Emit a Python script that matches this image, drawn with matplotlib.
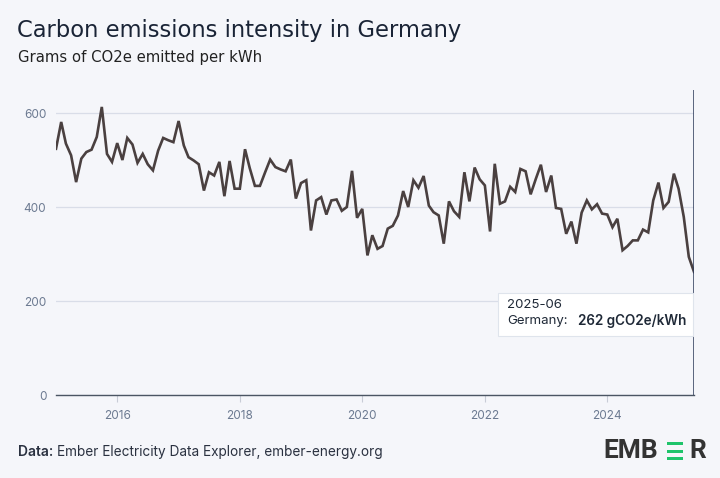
import matplotlib.pyplot as plt
import matplotlib.patches as patches
import pandas as pd

plt.rcParams["font.family"] = ["Inter", "DejaVu Sans"]

# Monthly carbon intensity, Germany (gCO2e/kWh), Jan 2015 - Jun 2025
y2015 = [524, 581, 535, 510, 453, 503, 517, 522, 549, 613, 513, 496]
y2016 = [536, 500, 547, 533, 494, 513, 491, 478, 520, 547, 542, 538]
y2017 = [583, 531, 506, 499, 491, 435, 474, 467, 496, 423, 498, 439]
y2018 = [439, 523, 483, 445, 445, 474, 501, 485, 480, 476, 501, 418]
y2019 = [451, 457, 350, 414, 421, 384, 414, 416, 392, 400, 477, 377]
y2020 = [396, 297, 340, 311, 317, 354, 360, 382, 434, 400, 457, 441]
y2021 = [466, 403, 389, 382, 322, 412, 391, 379, 474, 412, 484, 459]
y2022 = [446, 348, 492, 407, 412, 443, 432, 481, 476, 427, 460, 490]
y2023 = [432, 467, 398, 396, 343, 369, 322, 388, 414, 395, 406, 386]
y2024 = [384, 357, 375, 308, 317, 329, 329, 352, 346, 414, 452, 398]
y2025 = [411, 471, 439, 379, 294, 262]

values = (y2015 + y2016 + y2017 + y2018 + y2019 + y2020
          + y2021 + y2022 + y2023 + y2024 + y2025)
dates = pd.date_range("2015-01-01", periods=len(values), freq="MS")
year_ticks = [2016, 2018, 2020, 2022, 2024]
y_ticks = [0, 200, 400, 600]

bg = "#f5f6fa"
fig = plt.figure(figsize=(7.2, 4.78), dpi=100, facecolor=bg)
W, H = 720, 478
ax = fig.add_axes([56 / W, (H - 395) / H, (694 - 56) / W, (395 - 90) / H])
ax.set_facecolor(bg)

ax.plot(dates, values, color="#4a4040", lw=1.9, solid_joinstyle="miter", zorder=3)

ax.set_xlim(dates[0], dates[-1])
ax.set_ylim(0, 649)
ax.set_yticks(y_ticks)
ax.set_yticklabels([str(v) for v in y_ticks])
ax.set_xticks([pd.Timestamp(f"{y}-01-01") for y in year_ticks])
ax.set_xticklabels([str(y) for y in year_ticks])
ax.grid(axis="y", color="#d9dde8", lw=0.9)
ax.set_axisbelow(True)
for s in ["top", "right", "left"]:
    ax.spines[s].set_visible(False)
ax.spines["bottom"].set_color("#4b5563")
ax.spines["bottom"].set_linewidth(1.0)
ax.tick_params(axis="y", length=0, pad=7, labelsize=8.5, labelcolor="#6c7a91")
ax.tick_params(axis="x", length=5, color="#c8ccd6", pad=6, labelsize=8.5, labelcolor="#6c7a91")

# hover line on last month
ax.axvline(dates[-1], color="#2f3d5c", lw=1.1, zorder=4)

# tooltip
fig.patches.append(patches.Rectangle((498 / W, (H - 336) / H), 195 / W, 43 / H,
                                     transform=fig.transFigure, facecolor="white",
                                     edgecolor="#dfe4ec", lw=0.8, zorder=5))
fig.text(507 / W, 1 - 305 / H, dates[-1].strftime("%Y-%m"), fontsize=9.5,
         color="#1f2937", va="center", zorder=6)
fig.text(507 / W, 1 - 321 / H, "Germany:", fontsize=9.5, color="#1f2937",
         va="center", zorder=6)
fig.text(578 / W, 1 - 321 / H, f"{values[-1]} gCO2e/kWh", fontsize=9.7,
         color="#1f2937", va="center", fontweight="semibold", zorder=6)

# titles
fig.text(17 / W, 1 - 30 / H, "Carbon emissions intensity in Germany", fontsize=16.3,
         color="#1a2436", va="center", family=["DejaVu Sans"])
fig.text(18 / W, 1 - 57 / H, "Grams of CO2e emitted per kWh", fontsize=10.7,
         color="#222222", va="center", family=["DejaVu Sans"])

# footer
fig.text(18 / W, 1 - 452 / H, "Data:", fontsize=10, color="#2a3140",
         va="center", fontweight="semibold")
fig.text(57 / W, 1 - 452 / H, "Ember Electricity Data Explorer, ember-energy.org",
         fontsize=9.8, color="#2a3140", va="center")

# logo: EMB, green bars E, R
logo_y = 1 - 451 / H
fig.text(603 / W, logo_y, "EMB", fontsize=19, fontweight="bold", color="#333333",
         va="center", family=["Roboto"])
fig.text(689 / W, logo_y, "R", fontsize=19, fontweight="bold", color="#333333",
         va="center", family=["Roboto"])
for by in [442, 450, 457]:
    fig.patches.append(patches.Rectangle((667 / W, 1 - (by + 3) / H), 16 / W, 3 / H,
                                         transform=fig.transFigure,
                                         facecolor="#1fc46b", edgecolor="none"))

fig.savefig("out.png", dpi=100, facecolor=bg)
